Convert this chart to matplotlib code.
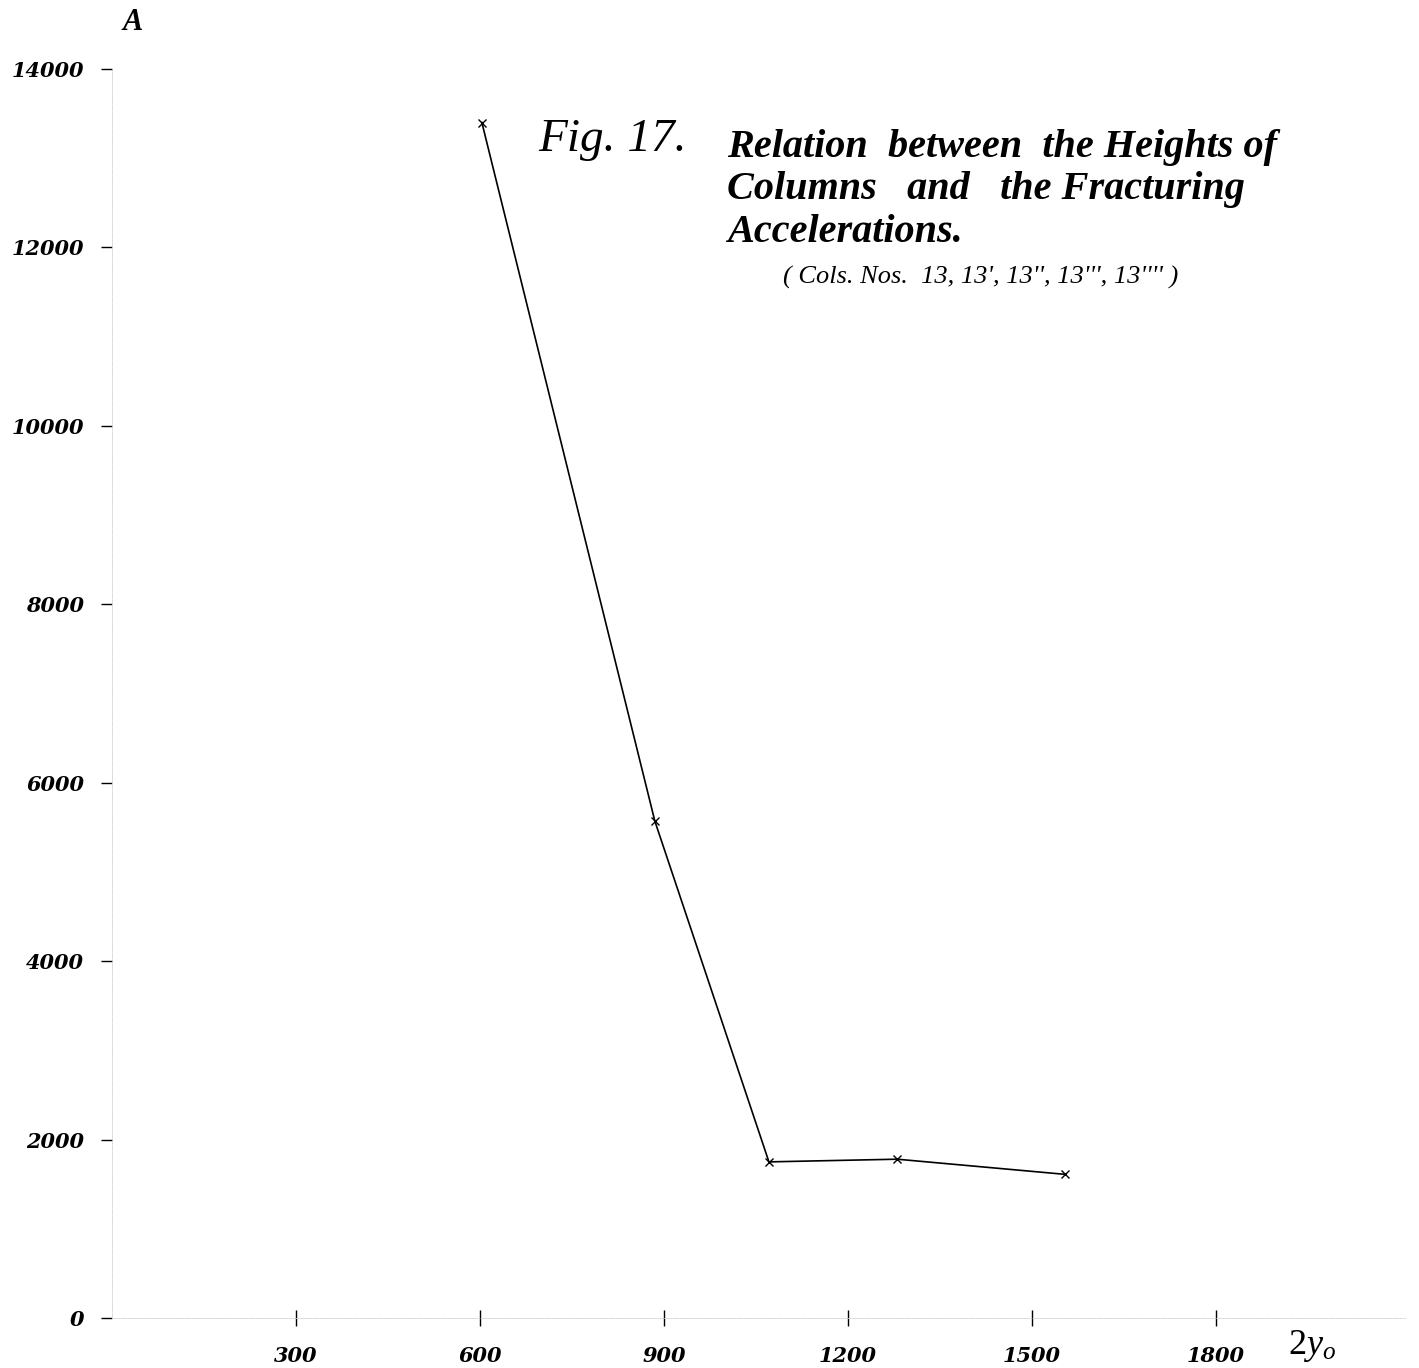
# Fig. 17 - heights of columns vs fracturing accelerations (redrawn scan)

import matplotlib
matplotlib.use("Agg")
import matplotlib.pyplot as plt

# values
heights = [603, 885, 1071, 1280, 1554]      # 2y0
accels = [13400, 5570, 1750, 1780, 1610]    # A

x_ticks = [300, 600, 900, 1200, 1500, 1800]
y_ticks = [0, 2000, 4000, 6000, 8000, 10000, 12000, 14000]

title_lines = [
    "Relation  between  the Heights of",
    "Columns   and   the Fracturing",
    "Accelerations.",
]
subtitle = "( Cols. Nos.  13, 13', 13'', 13''', 13'''' )"

plt.rcParams["font.family"] = "Liberation Serif"
plt.rcParams["mathtext.fontset"] = "custom"
plt.rcParams["mathtext.it"] = "Liberation Serif:italic"
plt.rcParams["mathtext.rm"] = "Liberation Serif"

fig = plt.figure(figsize=(14.19, 13.68), dpi=100)
ax = fig.add_axes([112 / 1419, 50 / 1368, 1293 / 1419, 1249 / 1368])

ax.plot(heights, accels, color="black", linewidth=1.2,
        marker="x", markersize=6, markeredgewidth=1.0)

ax.set_xlim(0, 2108)
ax.set_ylim(0, 14000)

# faint axis lines like the old print
for side in ["top", "right"]:
    ax.spines[side].set_visible(False)
for side in ["left", "bottom"]:
    ax.spines[side].set_color("#cccccc")
    ax.spines[side].set_linewidth(0.6)
    ax.spines[side].set_linestyle(":")

tick_font = dict(family="DejaVu Serif", fontsize=15, fontweight="bold",
                 fontstyle="italic")
ax.set_yticks(y_ticks)
ax.set_yticklabels([str(v) for v in y_ticks], **tick_font)
ax.set_xticks(x_ticks)
ax.set_xticklabels([str(v) for v in x_ticks], **tick_font)
ax.tick_params(axis="y", length=8, width=1.0, color="black", pad=12,
               direction="out")
ax.tick_params(axis="x", length=12, width=1.0, color="black", pad=14,
               direction="inout")

# axis names
fig.text(133 / 1419, 1 - 22 / 1368, "A", fontsize=22, fontweight="bold",
         fontstyle="italic", ha="center", va="center")
fig.text(1312 / 1419, 1 - 1346 / 1368, r"2$\mathit{y}_{o}$", fontsize=26,
         ha="center", va="center")

# title block
fig.text(538 / 1419, 1 - 140 / 1368, "Fig. 17.", fontsize=34,
         fontstyle="italic", ha="left", va="center")
for i, line in enumerate(title_lines):
    fig.text(727 / 1419, 1 - (148 + 42 * i) / 1368, line, fontsize=29,
             fontweight="bold", fontstyle="italic", ha="left", va="center")
fig.text(783 / 1419, 1 - 277 / 1368, subtitle, fontsize=19,
         fontstyle="italic", ha="left", va="center")

fig.savefig("out.png", dpi=100, facecolor="white")
